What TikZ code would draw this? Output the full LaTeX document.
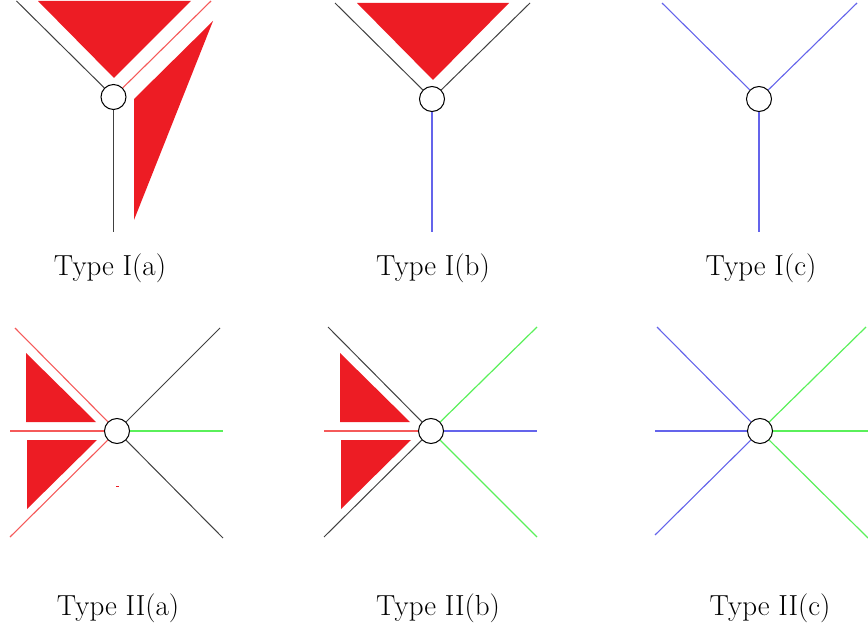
\documentclass[tikz,border=0pt]{standalone}
\begin{document}
\begin{tikzpicture}[x=1pt,y=-1pt,
  hub/.style={circle,draw=black,line width=1pt,minimum size=25pt,inner sep=0pt,fill=white},
  blk/.style={draw=black!75,line width=1pt},
  redl/.style={draw=redline,line width=1.1pt},
  bluel/.style={draw=blueline,line width=1.1pt},
  greenl/.style={draw=greenline,line width=1.2pt},
  hz/.style={line width=2pt},
  tri/.style={fill=trired,draw=none},
  lab/.style={anchor=base,font=\fontsize{29}{34}\selectfont}]
\definecolor{trired}{RGB}{237,28,36}
\definecolor{redline}{RGB}{245,90,90}
\definecolor{blueline}{RGB}{100,100,235}
\definecolor{greenline}{RGB}{90,240,90}
\useasboundingbox (0,0) rectangle (868,631);
% ---------- Type I(a)
\fill[tri] (38,1) -- (191,1) -- (114,78) -- cycle;
\fill[tri] (134,99) -- (213,21) -- (134,220) -- cycle;
\node[hub] (a) at (113.5,97) {};
\coordinate (a1) at (16.5,1);
\coordinate (a2) at (211,1);
\coordinate (a3) at (113.5,232);
\draw[blk] (a) -- (a1);
\draw[redl] (a) -- (a2);
\draw[blk] (a) -- (a3);
\node[lab] (la) at (110,276) {Type I(a)};
% ---------- Type I(b)
\fill[tri] (357,3) -- (509,3) -- (433,80) -- cycle;
\node[hub] (b) at (432,99) {};
\coordinate (b1) at (335,3);
\coordinate (b2) at (530,3);
\coordinate (b3) at (432,232);
\draw[blk] (b) -- (b1);
\draw[blk] (b) -- (b2);
\draw[bluel] (b) -- (b3);
\node[lab] (lb) at (433,276) {Type I(b)};
% ---------- Type I(c)
\node[hub] (c) at (759,99) {};
\coordinate (c1) at (662,3);
\coordinate (c2) at (857,3);
\coordinate (c3) at (759,232);
\draw[bluel] (c) -- (c1);
\draw[bluel] (c) -- (c2);
\draw[bluel] (c) -- (c3);
\node[lab] (lc) at (761,276) {Type I(c)};
% ---------- Type II(a)
\fill[tri] (26,353) -- (26,422) -- (96,422) -- cycle;
\fill[tri] (27,440) -- (97,440) -- (27,509) -- cycle;
\fill[trired] (116,485.5) rectangle (118.5,487);
\node[hub] (d) at (117,431) {};
\coordinate (d1) at (15,328);
\coordinate (d2) at (10,431);
\coordinate (d3) at (10,537);
\coordinate (d4) at (220,328);
\coordinate (d5) at (223,431);
\coordinate (d6) at (223,538);
\draw[redl] (d) -- (d1);
\draw[redl,hz] (d) -- (d2);
\draw[redl] (d) -- (d3);
\draw[blk] (d) -- (d4);
\draw[greenl,hz] (d) -- (d5);
\draw[blk] (d) -- (d6);
\node[lab] (ld) at (118,615) {Type II(a)};
% ---------- Type II(b)
\fill[tri] (340,353) -- (340,422) -- (410,422) -- cycle;
\fill[tri] (341,440) -- (411,440) -- (341,509) -- cycle;
\node[hub] (e) at (431,431) {};
\coordinate (e1) at (328,327);
\coordinate (e2) at (324,431);
\coordinate (e3) at (324,537);
\coordinate (e4) at (537,327);
\coordinate (e5) at (537,431);
\coordinate (e6) at (537,537);
\draw[blk] (e) -- (e1);
\draw[redl,hz] (e) -- (e2);
\draw[blk] (e) -- (e3);
\draw[greenl] (e) -- (e4);
\draw[bluel,hz] (e) -- (e5);
\draw[greenl] (e) -- (e6);
\node[lab] (le) at (438,615) {Type II(b)};
% ---------- Type II(c)
\node[hub] (f) at (760,431) {};
\coordinate (f1) at (657,327);
\coordinate (f2) at (655,431);
\coordinate (f3) at (655,535);
\coordinate (f4) at (866,327);
\coordinate (f5) at (868,431);
\coordinate (f6) at (868,538);
\draw[bluel] (f) -- (f1);
\draw[bluel,hz] (f) -- (f2);
\draw[bluel] (f) -- (f3);
\draw[greenl] (f) -- (f4);
\draw[greenl,hz] (f) -- (f5);
\draw[greenl] (f) -- (f6);
\node[lab] (lf) at (770,615) {Type II(c)};
\end{tikzpicture}
\end{document}
